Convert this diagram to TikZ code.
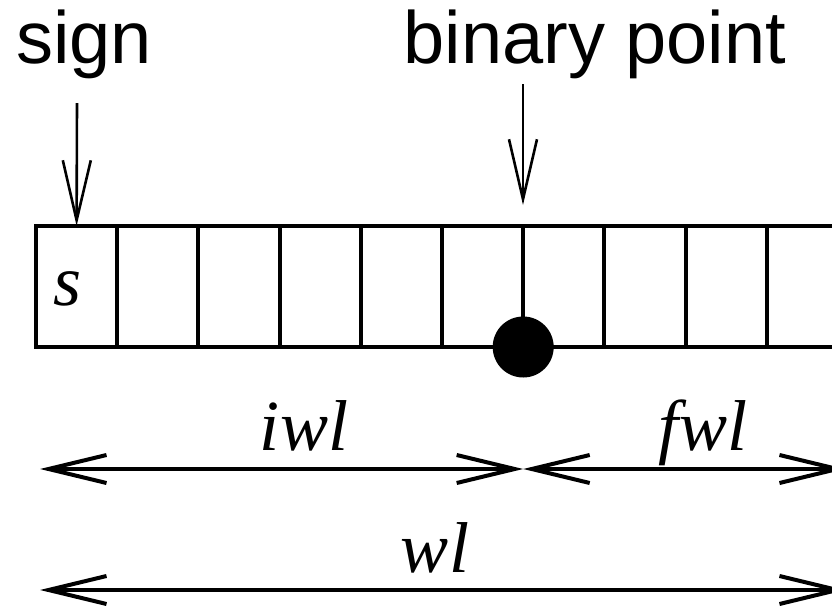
\documentclass[tikz,border=0pt]{standalone}
\usepackage{fontspec}
\setmainfont{Liberation Serif}
\setsansfont{Liberation Sans}
\usetikzlibrary{arrows.meta, positioning}

\begin{document}
\begin{tikzpicture}[
  x=0.5pt, y=-0.5pt,
  cell/.style={draw, line width=2pt, minimum width=40.6pt, minimum height=60.5pt, inner sep=0pt, outer sep=0pt},
  tag/.style={font=\sffamily\fontsize{37}{40}\selectfont, inner sep=0pt},
  len/.style={font=\itshape\fontsize{36}{40}\selectfont, inner sep=0pt},
  ptr/.style={line width=1.3pt, -{Straight Barb[length=30pt, width=14pt]}},
  span/.style={line width=2pt, {Straight Barb[length=29pt, width=14pt]}-{Straight Barb[length=29pt, width=14pt]}},
  dot/.style={circle, fill, minimum size=30.5pt, inner sep=0pt},
]
  \useasboundingbox (0,0) rectangle (832,606);
  \clip (0,0) rectangle (832,606);

  % word cells
  \node[cell] (c1) at (76.6,286.5) {};
  \foreach \i [remember=\i as \last (initially 1)] in {2,...,10}
    \node[cell, right=0 of c\last] (c\i) {};
  \node[len, anchor=base] (s) at (68,305) {s};

  % binary point
  \draw[line width=1.5pt] (c6.north east) -- (c6.south east);
  \node[dot] (bp) at (c6.south east) {};

  % labels on top
  \node[tag, anchor=base] (sign) at (84,63) {sign};
  \node[tag, anchor=base] (point) at (595,63) {binary point};
  \coordinate (signtop) at (77,103);
  \coordinate (pointtop) at (523,84);
  \coordinate (pointend) at (523,205);
  \draw[ptr] (signtop) -- (c1.north);
  \draw[ptr] (pointtop) -- (pointend);

  % word lengths
  \coordinate (iL) at (40,469);
  \coordinate (iR) at (846,469);
  \coordinate (wL) at (40,590);
  \coordinate (wR) at (846,590);
  \draw[span] (iL) -- (iL -| bp);
  \draw[span] (iL -| bp) -- (iR);
  \draw[span] (wL) -- (wR);
  \node[len, anchor=base] (iwl) at (304,450) {iwl};
  \node[len, anchor=base] (fwl) at (703,450) {fwl};
  \node[len, anchor=base] (wl) at (435,572) {wl};
\end{tikzpicture}
\end{document}
